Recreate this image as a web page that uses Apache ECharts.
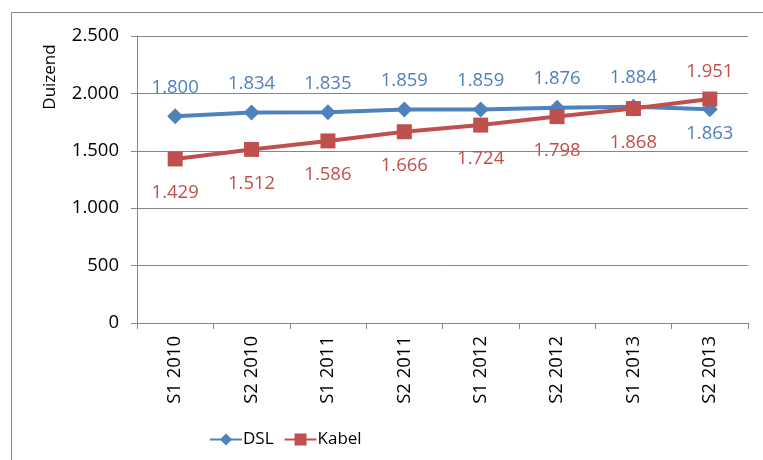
<!DOCTYPE html>
<html>
<head>
<meta charset="utf-8">
<script src="https://cdn.jsdelivr.net/npm/echarts@6/dist/echarts.min.js"></script>
<style>
  html, body { margin: 0; padding: 0; background: #fff; }
  #chart { width: 763px; height: 460px; }
</style>
</head>
<body>
<div id="chart"></div>
<script>
  var categories = ['S1 2010', 'S2 2010', 'S1 2011', 'S2 2011', 'S1 2012', 'S2 2012', 'S1 2013', 'S2 2013'];
  var dslValues = [1800, 1834, 1835, 1859, 1859, 1876, 1884, 1863];
  var kabelValues = [1429, 1512, 1586, 1666, 1724, 1798, 1868, 1951];

  var blue = '#4F81BD';
  var red = '#C0504D';
  var grey = '#868686';
  var font = 'Open Sans';
  var fs = 18.5;

  // dutch thousands separator
  function fmt(v) {
    v = Math.round(v);
    if (v < 1000) return String(v);
    var s = String(v);
    return s.slice(0, s.length - 3) + '.' + s.slice(s.length - 3);
  }

  // last point's label goes to the other side (lines cross there)
  function labelled(values, pos, dist, lastPos, lastDist) {
    return values.map(function (v, i) {
      var last = i === values.length - 1;
      return { value: v, label: { position: last ? lastPos : pos, distance: last ? lastDist : dist } };
    });
  }

  var myChart = echarts.init(document.getElementById('chart'));
  var option = {
    animation: false,
    textStyle: { fontFamily: font },
    grid: { left: 137, right: 15, top: 36, bottom: 137 },
    graphic: [
      {
        type: 'rect',
        shape: { x: 11.5, y: 12.5, width: 800, height: 500 },
        style: { fill: 'none', stroke: grey, lineWidth: 1 },
        silent: true
      },
      {
        type: 'text',
        x: 50, y: 77,
        rotation: Math.PI / 2,
        style: { text: 'Duizend', fill: '#000', font: '17px ' + font, align: 'center', verticalAlign: 'middle' }
      }
    ],
    legend: {
      bottom: 7,
      left: 204,
      itemWidth: 32,
      itemHeight: 15,
      itemGap: 10,
      textStyle: { fontSize: 17, color: '#000', fontFamily: font, padding: [0, 0, 0, -4] },
      data: ['DSL', 'Kabel']
    },
    xAxis: {
      type: 'category',
      data: categories,
      boundaryGap: true,
      axisLine: { lineStyle: { color: grey, width: 1 } },
      axisTick: { show: true, length: 6, alignWithLabel: false, lineStyle: { color: grey } },
      axisLabel: { rotate: 90, color: '#000', fontSize: fs, margin: 13, fontFamily: font }
    },
    yAxis: {
      type: 'value',
      min: 0,
      max: 2500,
      interval: 500,
      axisLine: { show: true, lineStyle: { color: grey, width: 1 } },
      axisTick: { show: true, length: 6, lineStyle: { color: grey } },
      splitLine: { show: true, lineStyle: { color: grey, width: 1 } },
      axisLabel: { color: '#000', fontSize: fs, margin: 18, fontFamily: font, formatter: fmt }
    },
    series: [
      {
        name: 'DSL',
        type: 'line',
        data: labelled(dslValues, 'top', 11, 'bottom', 7),
        symbol: 'diamond',
        symbolSize: 16,
        itemStyle: { color: blue },
        lineStyle: { color: blue, width: 4 },
        label: { show: true, color: blue, fontSize: fs, formatter: function (p) { return fmt(p.value); } }
      },
      {
        name: 'Kabel',
        type: 'line',
        data: labelled(kabelValues, 'bottom', 17, 'top', 10),
        symbol: 'rect',
        symbolSize: 15,
        itemStyle: { color: red },
        lineStyle: { color: red, width: 4 },
        label: { show: true, color: red, fontSize: fs, formatter: function (p) { return fmt(p.value); } }
      }
    ]
  };
  myChart.setOption(option);
</script>
</body>
</html>
